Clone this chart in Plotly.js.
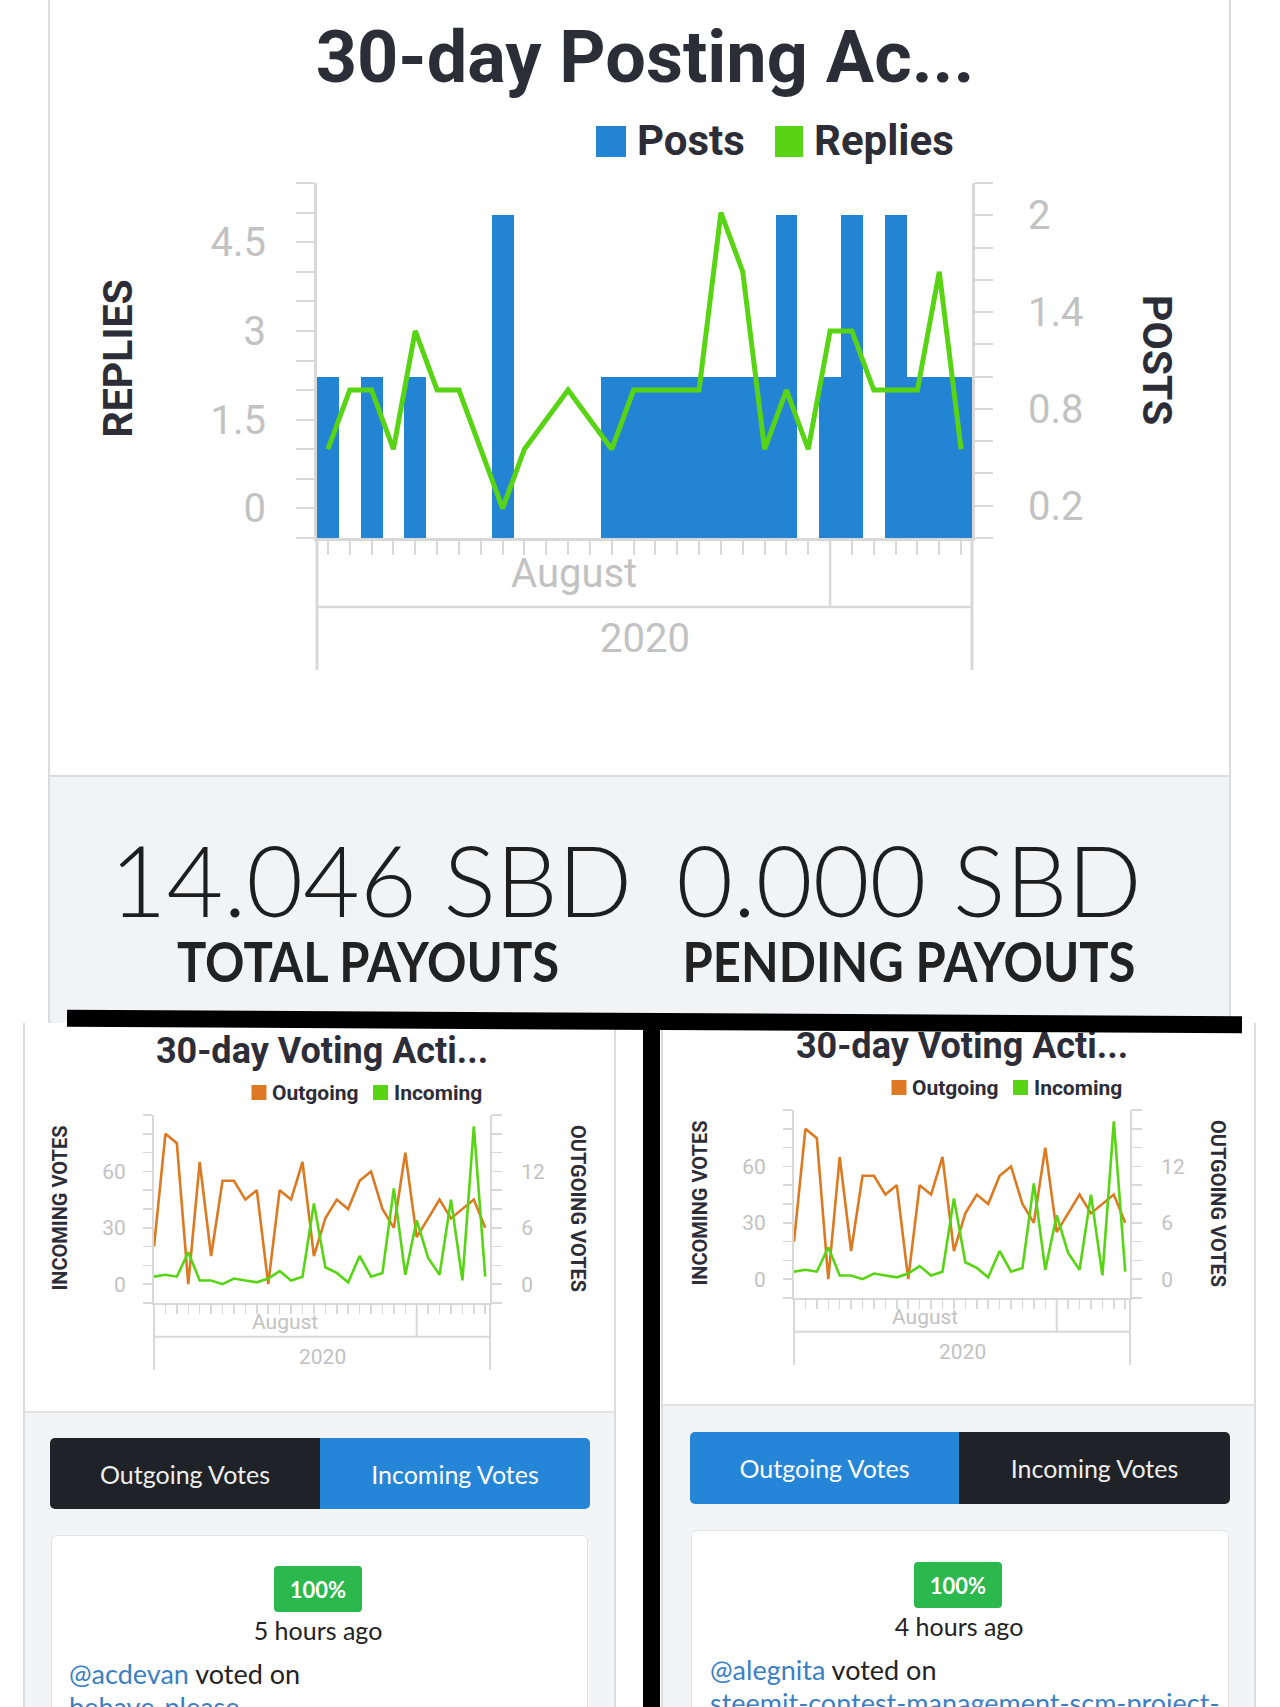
<!DOCTYPE html>
<html><head><meta charset="utf-8">
<script src="https://cdn.plot.ly/plotly-3.0.1.min.js"></script>
<style>
html,body{margin:0;padding:0;background:#fff;}
body{width:1280px;height:1707px;overflow:hidden;position:relative;font-family:Lato,sans-serif;}
.abs{position:absolute;box-sizing:border-box;}
.btn{display:flex;align-items:center;justify-content:center;font-family:Lato;font-size:25px;color:#fff;}
.ctr{text-align:center;white-space:nowrap;}
</style></head><body>

<!-- top card -->
<div class="abs" style="left:48px;top:-4px;width:1183px;height:781px;background:#fff;border-left:2px solid #dcdcdc;border-right:2px solid #dcdcdc;"></div>
<!-- stats -->
<div class="abs" style="left:48px;top:775px;width:1183px;height:250px;background:#f2f3f5;border:2px solid #dcdcdc;border-bottom:none;"></div>
<div class="abs ctr" style="left:71px;top:839px;width:600px;font-family:Lato;font-weight:300;font-size:98px;line-height:80px;color:#1e1e1e;">14.046 SBD</div>
<div class="abs ctr" style="left:609px;top:839px;width:600px;font-family:Lato;font-weight:300;font-size:98px;line-height:80px;color:#1e1e1e;">0.000 SBD</div>
<div class="abs ctr" style="left:68px;top:936px;width:600px;font-family:Lato;font-weight:700;font-size:55px;line-height:50px;color:#222;transform:scaleX(0.89);">TOTAL PAYOUTS</div>
<div class="abs ctr" style="left:609px;top:936px;width:600px;font-family:Lato;font-weight:700;font-size:55px;line-height:50px;color:#222;transform:scaleX(0.89);">PENDING PAYOUTS</div>

<!-- bottom left panel -->
<div class="abs" style="left:23px;top:1023px;width:593px;height:700px;background:#f3f4f6;border-left:2px solid #dcdcdc;border-right:2px solid #dcdcdc;"></div>
<div class="abs" style="left:25px;top:1023px;width:589px;height:390px;background:#fff;border-bottom:2px solid #e2e2e2;"></div>
<!-- bottom right panel -->
<div class="abs" style="left:661px;top:1023px;width:595px;height:700px;background:#f3f4f6;border-left:2px solid #dcdcdc;border-right:2px solid #dcdcdc;"></div>
<div class="abs" style="left:663px;top:1023px;width:591px;height:383px;background:#fff;border-bottom:2px solid #e2e2e2;"></div>

<div id="chartTop" class="abs" style="left:0;top:0;width:1280px;height:776px;"></div>
<div id="chartLeft" class="abs" style="left:0;top:1023px;width:640px;height:389px;"></div>
<div id="chartRight" class="abs" style="left:640px;top:1018px;width:640px;height:389px;"></div>

<!-- left buttons / card -->
<div class="abs btn" style="left:50px;top:1438px;width:270px;height:71px;background:#1f2226;border-radius:5px 0 0 5px;color:#eee;">Outgoing Votes</div>
<div class="abs btn" style="left:320px;top:1438px;width:270px;height:71px;background:#2585d6;border-radius:0 5px 5px 0;">Incoming Votes</div>
<div class="abs" style="left:51px;top:1535px;width:537px;height:220px;background:#fff;border:1px solid #e3e3e3;border-radius:6px;"></div>
<div class="abs btn" style="left:274px;top:1566px;width:88px;height:46px;background:#2bb84c;border-radius:4px;font-weight:700;font-size:22px;">100%</div>
<div class="abs ctr" style="left:168px;top:1615px;width:300px;font-size:25px;line-height:30px;color:#222;">5 hours ago</div>
<div class="abs" style="left:69px;top:1657px;font-size:27px;line-height:34px;color:#222;white-space:nowrap;"><span style="color:#3b7fc2">@acdevan</span> voted on</div>
<div class="abs" style="left:69px;top:1690px;font-size:27px;line-height:34px;color:#3b7fc2;white-space:nowrap;">behave-please</div>

<!-- right buttons / card -->
<div class="abs btn" style="left:690px;top:1432px;width:269px;height:72px;background:#2585d6;border-radius:5px 0 0 5px;">Outgoing Votes</div>
<div class="abs btn" style="left:959px;top:1432px;width:271px;height:72px;background:#1f2226;border-radius:0 5px 5px 0;color:#eee;">Incoming Votes</div>
<div class="abs" style="left:691px;top:1530px;width:538px;height:220px;background:#fff;border:1px solid #e3e3e3;border-radius:6px;"></div>
<div class="abs btn" style="left:914px;top:1562px;width:88px;height:46px;background:#2bb84c;border-radius:4px;font-weight:700;font-size:22px;">100%</div>
<div class="abs ctr" style="left:809px;top:1611px;width:300px;font-size:25px;line-height:30px;color:#222;">4 hours ago</div>
<div class="abs" style="left:710px;top:1653px;font-size:27px;line-height:34px;color:#222;white-space:nowrap;"><span style="color:#3b7fc2">@alegnita</span> voted on</div>
<div class="abs" style="left:710px;top:1686px;font-size:27px;line-height:34px;color:#3b7fc2;white-space:nowrap;">steemit-contest-management-scm-project-</div>

<!-- black separators -->
<div class="abs" style="left:67px;top:1012.75px;width:1175px;height:17px;background:#000;transform:rotate(0.317deg);"></div>
<div class="abs" style="left:643px;top:1018px;width:17px;height:700px;background:#000;"></div>

<script>
// ---------- data ----------
const postDates = ['2020-08-09','2020-08-10','2020-08-11','2020-08-12','2020-08-13','2020-08-14','2020-08-15','2020-08-16','2020-08-17','2020-08-18','2020-08-19','2020-08-20','2020-08-21','2020-08-22','2020-08-23','2020-08-24','2020-08-25','2020-08-26','2020-08-27','2020-08-28','2020-08-29','2020-08-30','2020-08-31','2020-09-01','2020-09-02','2020-09-03','2020-09-04','2020-09-05','2020-09-06','2020-09-07'];
const posts   = [1,0,1,0,1,0,0,0,2,0,0,0,0,1,1,1,1,1,1,1,1,2,0,1,2,0,2,1,1,1];
const replies = [1,2,2,1,3,2,2,1,0,1,null,2,null,1,2,2,2,2,5,4,1,2,1,3,3,2,2,2,4,1];

const voteDates = ['2020-08-09','2020-08-10','2020-08-11','2020-08-12','2020-08-13','2020-08-14','2020-08-15','2020-08-16','2020-08-17','2020-08-18','2020-08-19','2020-08-20','2020-08-21','2020-08-22','2020-08-23','2020-08-24','2020-08-25','2020-08-26','2020-08-27','2020-08-28','2020-08-29','2020-08-30','2020-08-31','2020-09-01','2020-09-02','2020-09-03','2020-09-04','2020-09-05','2020-09-06','2020-09-07'];
const outgoing = [4,16,15,0,13,3,11,11,9,10,0,10,9,13,3,7,9,8,11,12,8,6,14,5,7,9,7,8,9,6];
const incoming = [4,5,4,17,2,2,0,3,2,1,3,7,2,4,43,9,6,1,15,4,6,51,5,34,14,5,45,2,84,4];

const postTickVals  = [0,0.2,0.4,0.6,0.8,1.0,1.2,1.4,1.6,1.8,2.0,2.2];
const postTickText  = ['','0.2','','','0.8','','','1.4','','','2',''];
const replyTickVals = [-0.5,0,0.5,1,1.5,2,2.5,3,3.5,4,4.5,5,5.5];
const replyTickText = ['','0','','','1.5','','','3','','','4.5','',''];
const outTickVals = [-2,0,2,4,6,8,10,12,14,16,18];
const outTickText = ['','0','','','6','','','12','','',''];
const inTickVals  = [-10,0,10,20,30,40,50,60,70,80,90];
const inTickText  = ['','0','','','30','','','60','','',''];

const monthLabel = 'August';
const yearLabel = '2020';
const monthBoundary = '2020-09-01';

// ---------- helpers ----------
const toMs = s => Date.parse(s.replace(' ','T') + (s.length <= 10 ? 'T00:00:00Z' : ':00Z'));
const toStr = ms => new Date(ms).toISOString().replace('T',' ').slice(0,19);
const mid = (a,b) => toStr((toMs(a)+toMs(b))/2);

const AX = '#d8d8d8';
const LBL = '#c2c2c2';
const TXT = '#2d2d38';
const GREEN = '#58d414';
const BLUE = '#2484d4';
const ORANGE = '#db7a22';

function ann(o){ return Object.assign({showarrow:false, xanchor:'center', yanchor:'middle'}, o); }

// ---------- top chart ----------
(function(){
  const W=1280,H=776,L=317,R=308,T=183,B=238;
  const pw=W-L-R, ph=H-T-B;
  const px = x => (x-L)/pw, py = y => (H-B-y)/ph;
  const rangeStart='2020-08-08 12:00', rangeEnd='2020-09-07 12:00';
  const traces = [
    {type:'bar', x:postDates, y:posts, name:'Posts', marker:{color:BLUE, line:{width:0}}, yaxis:'y', hoverinfo:'skip'},
    {type:'scatter', mode:'lines', x:postDates, y:replies, name:'Replies', connectgaps:true, line:{color:GREEN, width:5}, yaxis:'y2', hoverinfo:'skip'}
  ];
  const lineSh = (o) => Object.assign({type:'line', layer:'below', line:{color:AX, width:2.5}}, o);
  const layout = {
    width:W, height:H, margin:{l:L,r:R,t:T,b:B,pad:0},
    paper_bgcolor:'rgba(0,0,0,0)', plot_bgcolor:'rgba(0,0,0,0)',
    showlegend:false, bargap:0,
    title:{text:'30-day Posting Ac...', xref:'container', x:645/W, xanchor:'center', yref:'container', y:1-57/H, yanchor:'middle',
           font:{family:'Roboto', size:72, weight:700, color:TXT}},
    xaxis:{type:'date', range:[rangeStart,rangeEnd], showgrid:false, zeroline:false, showline:true, linecolor:AX, linewidth:3,
           ticks:'outside', ticklen:14, tickwidth:2, tickcolor:AX, tickvals:postDates, showticklabels:false, fixedrange:true},
    yaxis:{side:'right', range:[0,2.2], tickvals:postTickVals, ticktext:postTickText, showgrid:false, zeroline:false,
           showline:true, linecolor:AX, linewidth:3, ticks:'outside', ticklen:18, tickwidth:2, tickcolor:AX,
           ticklabelstandoff:27, tickfont:{family:'Roboto', size:40, color:LBL}},
    yaxis2:{overlaying:'y', side:'left', range:[-0.5,5.5], tickvals:replyTickVals, ticktext:replyTickText, showgrid:false, zeroline:false,
           showline:true, linecolor:AX, linewidth:3, ticks:'outside', ticklen:18, tickwidth:2, tickcolor:AX,
           ticklabelstandoff:22, tickfont:{family:'Roboto', size:40, color:LBL}},
    shapes:[
      lineSh({xref:'paper', yref:'paper', x0:0, x1:0, y0:0, y1:py(670), line:{color:AX,width:3}}),
      lineSh({xref:'paper', yref:'paper', x0:1, x1:1, y0:0, y1:py(670), line:{color:AX,width:3}}),
      lineSh({xref:'paper', yref:'paper', x0:0, x1:1, y0:py(607), y1:py(607)}),
      lineSh({xref:'x', yref:'paper', x0:monthBoundary, x1:monthBoundary, y0:0, y1:py(607)}),
      {type:'rect', xref:'paper', yref:'paper', x0:px(596), x1:px(626), y0:py(157), y1:py(126), fillcolor:BLUE, line:{width:0}},
      {type:'rect', xref:'paper', yref:'paper', x0:px(775), x1:px(803), y0:py(157), y1:py(126), fillcolor:GREEN, line:{width:0}}
    ],
    annotations:[
      ann({xref:'x', yref:'paper', x:mid(rangeStart, monthBoundary), y:py(573), text:monthLabel, font:{family:'Roboto', size:40, color:LBL}}),
      ann({xref:'paper', yref:'paper', x:0.5, y:py(638), text:yearLabel, font:{family:'Roboto', size:40, color:LBL}}),
      ann({xref:'paper', yref:'paper', x:px(117.5), y:py(359), text:'REPLIES', textangle:-90, font:{family:'Roboto', size:41, weight:700, color:TXT}}),
      ann({xref:'paper', yref:'paper', x:px(1157), y:py(360), text:'POSTS', textangle:90, font:{family:'Roboto', size:41, weight:700, color:TXT}}),
      ann({xref:'paper', yref:'paper', x:px(635), y:py(141), xanchor:'left', text:'Posts', font:{family:'Roboto', size:42, weight:700, color:TXT}}),
      ann({xref:'paper', yref:'paper', x:px(812), y:py(141), xanchor:'left', text:'Replies', font:{family:'Roboto', size:42, weight:700, color:TXT}})
    ]
  };
  Plotly.newPlot('chartTop', traces, layout, {staticPlot:true, displayModeBar:false});
})();

// ---------- voting charts ----------
function votingChart(id){
  const W=640,H=389,L=154,R=150,T=92,B=109;
  const pw=W-L-R, ph=H-T-B;
  const px = x => (x-L)/pw, py = y => (H-B-y)/ph;
  const rangeStart='2020-08-09', rangeEnd='2020-09-07 10:00';
  const traces = [
    {type:'scatter', mode:'lines', x:voteDates, y:outgoing, name:'Outgoing', line:{color:ORANGE, width:2.6}, yaxis:'y', hoverinfo:'skip'},
    {type:'scatter', mode:'lines', x:voteDates, y:incoming, name:'Incoming', line:{color:GREEN, width:2.6}, yaxis:'y2', hoverinfo:'skip'}
  ];
  const lineSh = (o) => Object.assign({type:'line', layer:'below', line:{color:AX, width:2}}, o);
  const layout = {
    width:W, height:H, margin:{l:L,r:R,t:T,b:B,pad:0},
    paper_bgcolor:'rgba(0,0,0,0)', plot_bgcolor:'rgba(0,0,0,0)',
    showlegend:false,
    title:{text:'30-day Voting Acti...', xref:'container', x:322/W, xanchor:'center', yref:'container', y:1-27/H, yanchor:'middle',
           font:{family:'Roboto', size:36, weight:700, color:TXT}},
    xaxis:{type:'date', range:[rangeStart,rangeEnd], showgrid:false, zeroline:false, showline:true, linecolor:AX, linewidth:2,
           ticks:'outside', ticklen:9, tickwidth:1.5, tickcolor:AX, tickvals:voteDates, showticklabels:false},
    yaxis:{side:'right', range:[-2,18], tickvals:outTickVals, ticktext:outTickText, showgrid:false, zeroline:false,
           showline:true, linecolor:AX, linewidth:2, ticks:'outside', ticklen:10, tickwidth:1.5, tickcolor:AX,
           ticklabelstandoff:15, tickfont:{family:'Roboto', size:21, color:LBL}},
    yaxis2:{overlaying:'y', side:'left', range:[-10,90], tickvals:inTickVals, ticktext:inTickText, showgrid:false, zeroline:false,
           showline:true, linecolor:AX, linewidth:2, ticks:'outside', ticklen:9, tickwidth:1.5, tickcolor:AX,
           ticklabelstandoff:13, tickfont:{family:'Roboto', size:21, color:LBL}},
    shapes:[
      lineSh({xref:'paper', yref:'paper', x0:0, x1:0, y0:0, y1:py(347)}),
      lineSh({xref:'paper', yref:'paper', x0:1, x1:1, y0:0, y1:py(347)}),
      lineSh({xref:'paper', yref:'paper', x0:0, x1:1, y0:py(313.7), y1:py(313.7)}),
      lineSh({xref:'x', yref:'paper', x0:monthBoundary, x1:monthBoundary, y0:0, y1:py(313.7)}),
      {type:'rect', xref:'paper', yref:'paper', x0:px(251.5), x1:px(266.5), y0:py(77), y1:py(62), fillcolor:ORANGE, line:{width:0}},
      {type:'rect', xref:'paper', yref:'paper', x0:px(373), x1:px(388), y0:py(77), y1:py(62), fillcolor:GREEN, line:{width:0}}
    ],
    annotations:[
      ann({xref:'x', yref:'paper', x:mid(rangeStart, monthBoundary), y:py(298.5), text:monthLabel, font:{family:'Roboto', size:21, color:LBL}}),
      ann({xref:'paper', yref:'paper', x:0.5, y:py(334), text:yearLabel, font:{family:'Roboto', size:21, color:LBL}}),
      ann({xref:'paper', yref:'paper', x:px(59.5), y:py(185), text:'INCOMING VOTES', textangle:-90, font:{family:'Roboto', size:20, weight:700, color:TXT}}),
      ann({xref:'paper', yref:'paper', x:px(578), y:py(185), text:'OUTGOING VOTES', textangle:90, font:{family:'Roboto', size:20, weight:700, color:TXT}}),
      ann({xref:'paper', yref:'paper', x:px(270), y:py(70), xanchor:'left', text:'Outgoing', font:{family:'Roboto', size:21, weight:700, color:TXT}}),
      ann({xref:'paper', yref:'paper', x:px(392), y:py(70), xanchor:'left', text:'Incoming', font:{family:'Roboto', size:21, weight:700, color:TXT}})
    ]
  };
  Plotly.newPlot(id, traces, layout, {staticPlot:true, displayModeBar:false});
}
votingChart('chartLeft');
votingChart('chartRight');
</script>
</body></html>
